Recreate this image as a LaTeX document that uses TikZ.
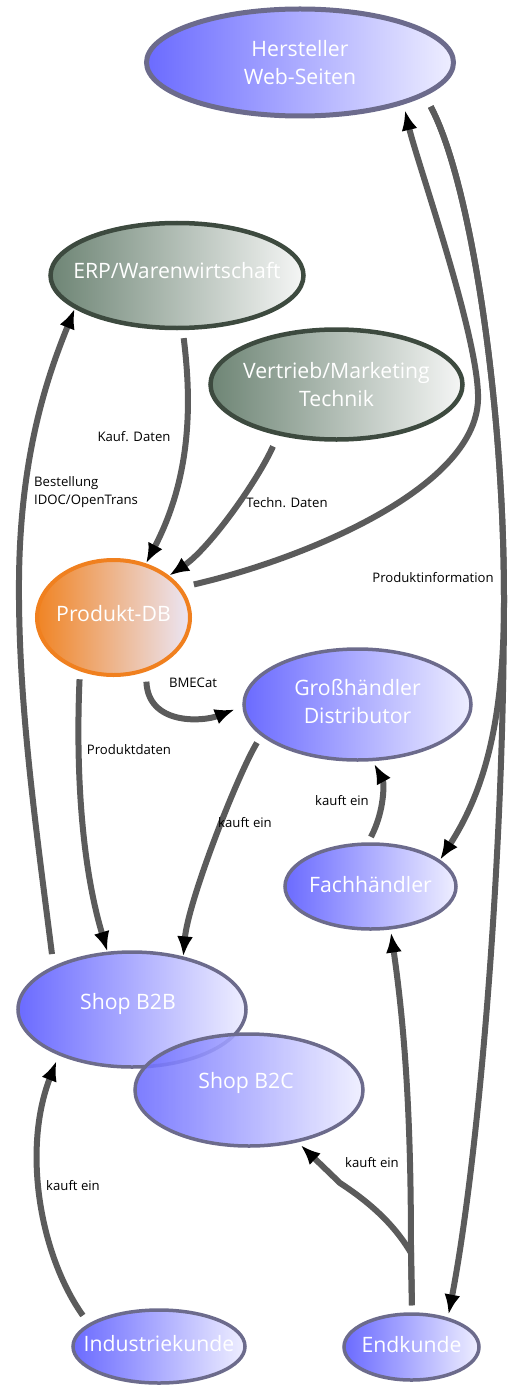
\documentclass[tikz,border=0pt]{standalone}
\usepackage{fontspec}
\setmainfont{Open Sans}
\usetikzlibrary{shapes.geometric,arrows.meta}
\definecolor{bl}{HTML}{6B6BFF}
\definecolor{br}{HTML}{EEEEFF}
\definecolor{bstroke}{HTML}{6C6B8C}
\definecolor{gl}{HTML}{6E8575}
\definecolor{gr}{HTML}{F5F6F5}
\definecolor{gstroke}{HTML}{3D4A3F}
\definecolor{ol}{HTML}{F08424}
\definecolor{orr}{HTML}{EBE6F5}
\definecolor{ostroke}{HTML}{F0801F}
\definecolor{lgray}{HTML}{5B5B5B}
\tikzset{
  ell/.style={ellipse, inner sep=0pt, line width=3.5bp},
  bluenode/.style={ell, draw=bstroke, left color=bl, right color=br},
  greennode/.style={ell, draw=gstroke, line width=4.5bp, left color=gl, right color=gr},
  orangenode/.style={ell, draw=ostroke, line width=4bp, left color=ol, right color=orr},
  ntext/.style={text=white, font=\fontsize{21.3}{29}\selectfont, align=center},
  conn/.style={draw=lgray, line width=6bp, -{Latex[length=20bp,width=16bp,color=black]}},
  elabel/.style={text=black, font=\fontsize{13.2}{18}\selectfont, inner sep=0pt}
}
\begin{document}
\begin{tikzpicture}[x=1bp,y=-1bp]
\useasboundingbox (0,0) rectangle (512,1387);
% nodes
\node[bluenode, line width=5bp, minimum width=307bp, minimum height=107bp,
  label={[ntext]center:{Hersteller\\Web-Seiten}}] (hst) at (300,62.5) {};
\node[greennode, minimum width=253bp, minimum height=105bp,
  label={[ntext, yshift=5bp]center:{ERP/Warenwirtschaft}}] (erp) at (177,275.5) {};
\node[greennode, minimum width=252bp, minimum height=110bp,
  label={[ntext]center:{Vertrieb/Marketing\\Technik}}] (vtr) at (336.5,384.5) {};
\node[orangenode, minimum width=153bp, minimum height=115bp,
  label={[ntext, yshift=4bp]center:{Produkt-DB}}] (pdb) at (113.5,617.5) {};
\node[bluenode, minimum width=227bp, minimum height=111bp,
  label={[ntext, yshift=3bp]center:{Großhändler\\Distributor}}] (gh) at (357.5,704.5) {};
\node[bluenode, minimum width=171bp, minimum height=85bp,
  label={[ntext, yshift=2bp]center:{Fachhändler}}] (fh) at (370.5,886.5) {};
\node[bluenode, minimum width=228bp, minimum height=115bp,
  label={[ntext, yshift=6bp, xshift=-4bp]center:{Shop B2B}}] (b2b) at (132,1009.5) {};
\node[bluenode, fill opacity=0.88, text opacity=1, minimum width=228bp, minimum height=112bp,
  label={[ntext, yshift=7bp, xshift=-3bp]center:{Shop B2C}}] (b2c) at (249,1090) {};
\node[bluenode, minimum width=172bp, minimum height=73bp,
  label={[ntext, yshift=3bp]center:{Industriekunde}}] (ik) at (159,1346.5) {};
\node[bluenode, minimum width=135bp, minimum height=66bp,
  label={[ntext, yshift=2bp]center:{Endkunde}}] (ek) at (411.5,1347) {};
% connectors
\draw[conn, shorten <=8bp] (erp.-84.5) .. controls (190,390) and (195,470) .. (pdb.59);
\draw[conn, shorten <=12bp] (vtr.-139) .. controls (258,480) and (210,548) .. (pdb.37);
\draw[conn, shorten <=13bp, shorten >=6bp] (pdb.24) .. controls (300,560) and (475,490) .. (478,400)
  .. controls (480,340) and (417,162) .. (hst.-22.6);
\draw[conn, shorten <=12bp] (hst.-15) .. controls (470,180) and (504,400) .. (504,600)
  .. controls (504,720) and (485,790) .. (fh.21);
\draw[conn, shorten <=12bp, shorten >=3bp] (hst.-15) .. controls (470,180) and (504,400) .. (504,600)
  .. controls (504,850) and (480,1150) .. (ek.39);
\draw[conn, shorten <=8bp] (pdb.-122) .. controls (76,760) and (80,860) .. (b2b.113);
\draw[conn, shorten <=12bp] (b2b.151.5) .. controls (35,820) and (18,700) .. (19,580)
  .. controls (20,450) and (50,370) .. (erp.-162);
\draw[conn, shorten <=10bp, shorten >=8bp] (pdb.-59.7) .. controls (148,725) and (202,722) .. (gh.181.5);
\draw[conn, shorten <=8bp] (gh.-162.8) .. controls (236.5,777) and (188,902) .. (b2b.46.4);
\draw[conn, shorten <=6bp, shorten >=3bp] (fh.93) .. controls (385,810) and (384,782) .. (gh.-75);
\coordinate (j) at (411,1253);
\draw[conn, shorten <=7bp, shorten >=3bp] (ek.89) -- (j) .. controls (411,1150) and (408,1050) .. (fh.-65);
\draw[conn, shorten <=7bp, shorten >=4bp] (ek.89) -- (j) .. controls (393,1222) and (366,1200) .. (340,1183) -- (b2c.-47);
\draw[conn, shorten <=10bp, shorten >=6bp] (ik.162.4) .. controls (40,1255) and (22,1150) .. (b2b.-148);
% edge labels
\node[elabel] (l1) at (134,437) {Kauf. Daten};
\node[elabel] (l2) at (287,503) {Techn. Daten};
\node[elabel] (l3) at (433,578) {Produktinformation};
\node[elabel] (l4) at (129,750) {Produktdaten};
\node[elabel, anchor=west, align=left] (l5) at (34,492) {Bestellung\\IDOC/OpenTrans};
\node[elabel] (l6) at (193,683) {BMECat};
\node[elabel] (l7) at (245,823) {kauft ein};
\node[elabel] (l8) at (342,801) {kauft ein};
\node[elabel] (l9) at (372,1163) {kauft ein};
\node[elabel] (l10) at (73,1186) {kauft ein};
\end{tikzpicture}
\end{document}
